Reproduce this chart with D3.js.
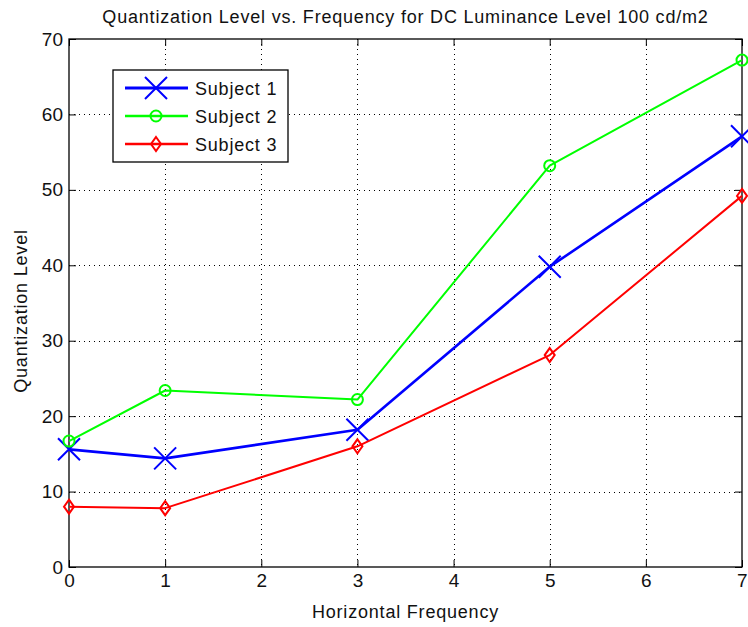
<!DOCTYPE html>
<html>
<head>
<meta charset="utf-8">
<script src="https://cdn.jsdelivr.net/npm/d3@7"></script>
<style>
  html, body { margin: 0; padding: 0; background: #fff; }
  svg text { font-family: "Liberation Sans", Arial, sans-serif; fill: #111; }
</style>
</head>
<body>
<svg id="chart" width="748" height="627"></svg>
<script>
// Horizontal frequencies tested
const frequencies = [0, 1, 3, 5, 7];
// Quantization level per subject
const subject1 = [15.6, 14.4, 18.2, 39.8, 57.1];
const subject2 = [16.7, 23.4, 22.2, 53.2, 67.2];
const subject3 = [8.0, 7.8, 16.0, 28.1, 49.2];
const seriesNames = ["Subject 1", "Subject 2", "Subject 3"];
const xTicks = [0, 1, 2, 3, 4, 5, 6, 7];
const yTicks = [0, 10, 20, 30, 40, 50, 60, 70];

const series = [
  { name: seriesNames[0], values: subject1, color: "#0000ff", marker: "x", width: 2.6 },
  { name: seriesNames[1], values: subject2, color: "#00ff00", marker: "o", width: 2 },
  { name: seriesNames[2], values: subject3, color: "#ff0000", marker: "d", width: 2 }
];

const svg = d3.select("#chart");
const margin = { left: 69, right: 6, top: 39, bottom: 60 };
const W = 748, H = 627;
const x = d3.scaleLinear().domain([0, 7]).range([margin.left, W - margin.right]);
const y = d3.scaleLinear().domain([0, 70]).range([H - margin.bottom, margin.top]);

const x0 = x.range()[0], x1 = x.range()[1];
const y0 = y.range()[0], y1 = y.range()[1];

const labelStyle = sel => sel.attr("font-size", 18).attr("letter-spacing", 0.8);

// Dotted grid
const grid = svg.append("g").attr("stroke", "#000").attr("stroke-width", 1)
  .attr("stroke-dasharray", "1,4");
grid.selectAll(".gx").data(xTicks.slice(1, -1)).join("line")
  .attr("x1", d => Math.round(x(d)) + 0.5).attr("x2", d => Math.round(x(d)) + 0.5)
  .attr("y1", y1).attr("y2", y0);
grid.selectAll(".gy").data(yTicks.slice(1, -1)).join("line")
  .attr("y1", d => Math.round(y(d)) + 0.5).attr("y2", d => Math.round(y(d)) + 0.5)
  .attr("x1", x0).attr("x2", x1);

// Axes with inward ticks
const fmt = d3.format("d");
const xAxis = d3.axisBottom(x).tickValues(xTicks).tickSize(-7).tickPadding(7).tickFormat(fmt);
const yAxis = d3.axisLeft(y).tickValues(yTicks).tickSize(-7).tickPadding(6).tickFormat(fmt);
const xTop = d3.axisTop(x).tickValues(xTicks).tickSize(-7).tickFormat("");
const yRight = d3.axisRight(y).tickValues(yTicks).tickSize(-7).tickFormat("");

function styleAxis(g) {
  g.select(".domain").remove();
  g.selectAll("line").attr("stroke", "#000");
  g.selectAll("text").attr("font-size", 19)
    .style("font-family", '"Liberation Sans", Arial, sans-serif').attr("fill", "#111");
}
svg.append("g").attr("transform", `translate(0,${y0})`).call(xAxis).call(styleAxis);
svg.append("g").attr("transform", `translate(${x0},0)`).call(yAxis).call(styleAxis);
svg.append("g").attr("transform", `translate(0,${y1})`).call(xTop).call(styleAxis);
svg.append("g").attr("transform", `translate(${x1},0)`).call(yRight).call(styleAxis);

// Keep the last x tick label inside the canvas
svg.selectAll("text").filter(function () { return this.textContent === "7"; })
  .attr("text-anchor", "end").attr("dx", 5);

// Axes box
svg.append("rect").attr("x", x0).attr("y", y1).attr("width", x1 - x0).attr("height", y0 - y1)
  .attr("fill", "none").attr("stroke", "#000").attr("stroke-width", 1.3);

// Lines and markers
const line = d3.line().x(d => x(d[0])).y(d => y(d[1]));
function drawMarker(g, type, color, cx, cy) {
  if (type === "x") {
    const r = 11;
    g.append("path").attr("d", `M${cx - r},${cy - r}L${cx + r},${cy + r}M${cx - r},${cy + r}L${cx + r},${cy - r}`)
      .attr("stroke", color).attr("stroke-width", 2).attr("fill", "none");
  } else if (type === "o") {
    g.append("circle").attr("cx", cx).attr("cy", cy).attr("r", 5.5)
      .attr("stroke", color).attr("stroke-width", 2).attr("fill", "none");
  } else {
    g.append("path").attr("d", `M${cx},${cy - 7}L${cx + 5},${cy}L${cx},${cy + 7}L${cx - 5},${cy}Z`)
      .attr("stroke", color).attr("stroke-width", 2).attr("fill", "none");
  }
}
series.forEach(s => {
  const pts = frequencies.map((f, i) => [f, s.values[i]]);
  const g = svg.append("g");
  g.append("path").datum(pts).attr("d", line).attr("fill", "none")
    .attr("stroke", s.color).attr("stroke-width", s.width).attr("stroke-linejoin", "round");
  pts.forEach(p => drawMarker(g, s.marker, s.color, x(p[0]), y(p[1])));
});

// Legend
const lg = svg.append("g");
lg.append("rect").attr("x", 113).attr("y", 70).attr("width", 175).attr("height", 92)
  .attr("fill", "#fff").attr("stroke", "#000").attr("stroke-width", 1.3);
series.forEach((s, i) => {
  const ly = 88 + i * 28;
  lg.append("line").attr("x1", 125).attr("x2", 188).attr("y1", ly).attr("y2", ly)
    .attr("stroke", s.color).attr("stroke-width", s.width + 0.5);
  drawMarker(lg, s.marker, s.color, 156, ly);
  lg.append("text").attr("x", 195).attr("y", ly + 7).call(labelStyle).text(s.name);
});

// Title and axis labels
svg.append("text").attr("x", (x0 + x1) / 2).attr("y", 23).attr("text-anchor", "middle")
  .call(labelStyle).text("Quantization Level vs. Frequency for DC Luminance Level 100 cd/m2");
svg.append("text").attr("x", (x0 + x1) / 2).attr("y", 618).attr("text-anchor", "middle")
  .call(labelStyle).text("Horizontal Frequency");
svg.append("text").attr("transform", `translate(27,${(y0 + y1) / 2 + 8}) rotate(-90)`)
  .attr("text-anchor", "middle").call(labelStyle).text("Quantization Level");
</script>
</body>
</html>
